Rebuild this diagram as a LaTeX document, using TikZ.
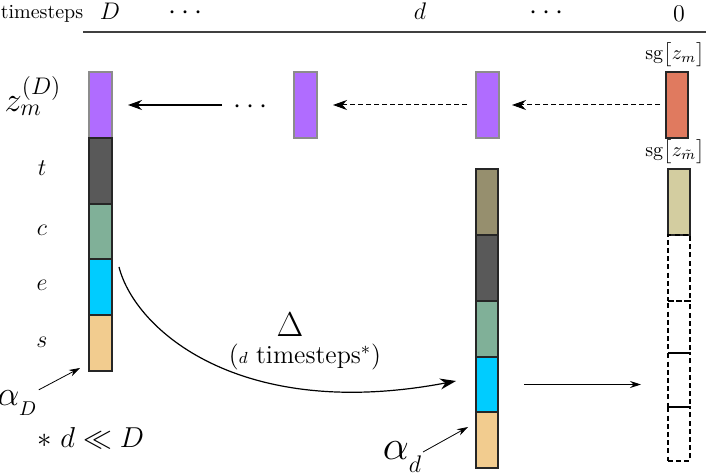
\documentclass[tikz,border=0pt]{standalone}
\usepackage{amsmath,amssymb}
\usetikzlibrary{arrows.meta}
\definecolor{zpurple}{HTML}{B06CFF}
\definecolor{zdark}{HTML}{595959}
\definecolor{zgreen}{HTML}{80B098}
\definecolor{zcyan}{HTML}{00CCFF}
\definecolor{ztan}{HTML}{F2CC8F}
\definecolor{zred}{HTML}{E07A5F}
\definecolor{zolive}{HTML}{968F6E}
\definecolor{zolivel}{HTML}{D3CDA0}
\begin{document}
\begin{tikzpicture}[x=0.5pt,y=-0.5pt,
  seg/.style={draw=black!85,line width=0.6pt,inner sep=0pt,outer sep=0pt,anchor=north west},
  pseg/.style={seg,draw=black!45,fill=zpurple},
  dseg/.style={draw=black,line width=0.7pt,dash pattern=on 2.5pt off 1.6pt,inner sep=0pt,outer sep=0pt,anchor=north west,minimum width=11pt},
  bigarrow/.style={-{Stealth[length=7pt,width=5pt]},line width=0.6pt},
  dasharrow/.style={bigarrow,line width=0.5pt,dash pattern=on 2.5pt off 1.5pt},
  smallarrow/.style={-{Stealth[length=5.5pt,width=3.5pt]},line width=0.4pt},
  curvearrow/.style={-{Stealth[length=8pt,width=5.5pt]},line width=0.6pt}
]
\useasboundingbox (0,0) rectangle (706,474);

% header
\node[anchor=base] (hts) at (42,19) {timesteps};
\node[anchor=base,font=\large] (hD) at (110,20) {$D$};
\node[anchor=base,font=\Large,inner sep=0pt] (hdots1) at (188,20) {$\cdots$};
\node[anchor=base,font=\large] (hd) at (420,20) {$d$};
\node[anchor=base,font=\Large,inner sep=0pt] (hdots2) at (549,20) {$\cdots$};
\node[anchor=base,font=\large] (h0) at (679,22) {$0$};
\coordinate (r0) at (83,32);
\coordinate (r1) at (706,32);
\draw[line width=0.7pt,draw=black!75] (r0) -- (r1);

% left column
\node[pseg,minimum width=11.5pt,minimum height=33pt] (L1) at (89,72) {};
\node[seg,fill=zdark,minimum width=11.5pt,minimum height=33pt] (L2) at (89,138) {};
\node[seg,fill=zgreen,minimum width=11.5pt,minimum height=27.5pt] (L3) at (89,204) {};
\node[seg,fill=zcyan,minimum width=11.5pt,minimum height=28pt] (L4) at (89,259) {};
\node[seg,fill=ztan,minimum width=11.5pt,minimum height=28pt] (L5) at (89,315) {};

% top purple boxes
\node[pseg,minimum width=11.5pt,minimum height=33pt] (P1) at (294,72) {};
\node[pseg,minimum width=11.5pt,minimum height=33pt] (P2) at (476,72) {};

% middle column
\node[seg,fill=zolive,minimum width=11pt,minimum height=33pt] (M1) at (476,169) {};
\node[seg,fill=zdark,minimum width=11pt,minimum height=33pt] (M2) at (476,235) {};
\node[seg,fill=zgreen,minimum width=11pt,minimum height=28pt] (M3) at (476,301) {};
\node[seg,fill=zcyan,minimum width=11pt,minimum height=27.5pt] (M4) at (476,357) {};
\node[seg,fill=ztan,minimum width=11pt,minimum height=28pt] (M5) at (476,412) {};

% right column
\node[seg,fill=zred,minimum width=11pt,minimum height=33pt] (R) at (666,72) {};
\node[seg,fill=zolivel,minimum width=11pt,minimum height=33pt] (Rt) at (668,169) {};
\node[dseg,minimum height=33pt] (D1) at (668,235) {};
\node[dseg,minimum height=26pt] (D2) at (668,301) {};
\node[dseg,minimum height=27pt] (D3) at (668,353) {};
\node[dseg,minimum height=27pt] (D4) at (668,407) {};

\node[anchor=south,inner sep=0.5pt,xshift=-1pt,yshift=2pt] (sg1) at (R.north) {$\mathrm{sg}\bigl[z_m\bigr]$};
\node[anchor=south,inner sep=0.5pt,xshift=-2pt,yshift=2pt] (sg2) at (Rt.north) {$\mathrm{sg}\bigl[z_{\tilde m}\bigr]$};

% left labels
\node[font=\LARGE] (zlab) at (33,96) {$z_m^{(D)}$};
\node[font=\large] (lt) at (42,168) {$t$};
\node[font=\large] (lc) at (42,230) {$c$};
\node[font=\large] (le) at (42,285) {$e$};
\node[font=\large] (ls) at (42,342) {$s$};

% top row arrows
\node[font=\Large] (rd) at (253,107) {$\cdots$};
\coordinate (a1) at (222,105);
\draw[bigarrow,shorten >=8pt] (a1) -- (L1.east);
\draw[dasharrow,shorten <=4.5pt,shorten >=8pt] (P2.west) -- (P1.east);
\draw[dasharrow,shorten <=3pt,shorten >=6.5pt] (R.west) -- (P2.east);

% bottom arrow
\draw[smallarrow,shorten <=13pt,shorten >=13.5pt] (M4.east) -- (M4.east -| D3.west);

% curve
\coordinate (cs) at (119,267);
\coordinate (ce) at (456,381);
\draw[curvearrow] (cs) .. controls (135,330) and (240,422) .. (ce);
\node[font=\fontsize{16}{18}\selectfont] (delta) at (290,325) {$\Delta$};
\node[font=\fontsize{13}{15}\selectfont] (dts) at (305,357) {({\footnotesize$d$} timesteps$^*$)};

% alphas
\node[font=\LARGE,inner sep=0pt] (aD) at (18,403) {$\alpha_{_D}$};
\coordinate (aDt) at (80,368);
\draw[smallarrow] (aD.north east) -- (aDt);
\node[font=\huge,inner sep=0pt] (ad) at (403,457) {$\alpha_{_d}$};
\coordinate (adS) at (423,452);
\coordinate (adT) at (468,427);
\draw[smallarrow] (adS) -- (adT);

\node[font=\Large] (note) at (91,438) {$*\; d\ll D$};
\end{tikzpicture}
\end{document}
